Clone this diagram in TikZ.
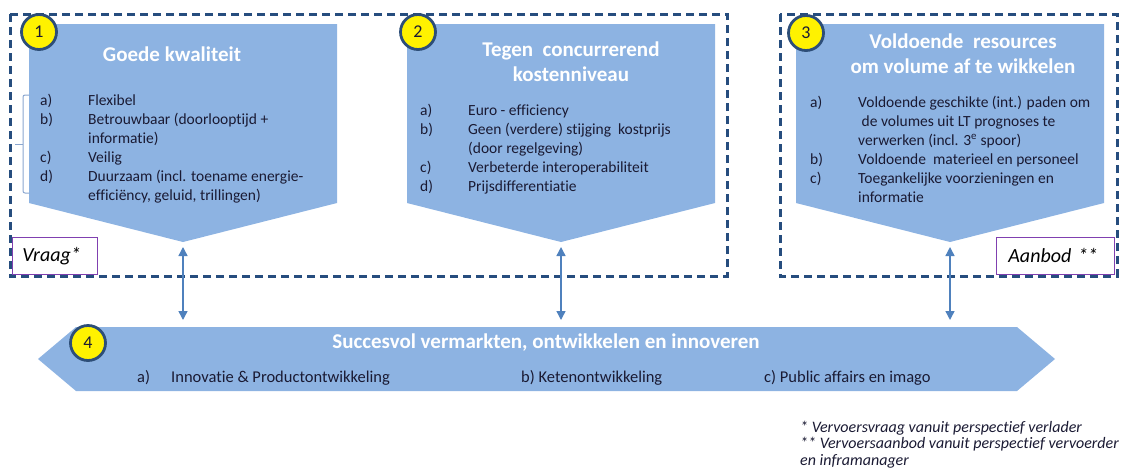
\documentclass[tikz,border=0pt]{standalone}
\usepackage{fontspec}
\setmainfont{Carlito}[Ligatures=NoCommon]
\usetikzlibrary{arrows.meta}

\definecolor{pentblue}{HTML}{8DB3E2}
\definecolor{framebl}{HTML}{264D7E}
\definecolor{ringbl}{HTML}{2D4E78}
\definecolor{arrbl}{HTML}{4F81BD}
\definecolor{bracebl}{HTML}{8AA6CF}
\definecolor{tagpurp}{HTML}{8040B0}
\definecolor{txtdark}{HTML}{1A1A33}

\tikzset{
  frame/.style={draw=framebl, line width=3pt, dash pattern=on 8pt off 5pt},
  pent/.style={fill=pentblue},
  badge/.style={circle, draw=ringbl, line width=2.8pt, fill=yellow, minimum size=35pt,
    inner sep=0pt, text=txtdark, font=\fontsize{18}{18}\selectfont},
  head/.style={text=white, align=center, font=\bfseries\fontsize{21}{25}\selectfont},
  items/.style={anchor=base west, inner sep=0pt, text=txtdark, font=\fontsize{15.5}{19}\selectfont},
  banitem/.style={items, font=\fontsize{16.5}{19}\selectfont},
  tag/.style={draw=tagpurp, line width=0.8pt, fill=white, anchor=north west, align=left,
    text=black, font=\itshape\fontsize{20}{20}\selectfont},
  arr/.style={draw=arrbl, line width=1.4pt, {Triangle[width=9pt,length=9pt]}-{Triangle[width=9pt,length=9pt]}},
  note/.style={anchor=base west, inner sep=0pt, text=txtdark, font=\itshape\fontsize{16}{16.5}\selectfont},
}

\begin{document}
\begin{tikzpicture}[x=1pt,y=-1pt]
\useasboundingbox (0,0) rectangle (1126,474);

% labels Vraag / Aanbod, under the frames
\node[tag, minimum width=85pt, minimum height=37pt, inner xsep=10pt, text width=65pt] (vraag) at (12,237) {Vraag*};
\node[tag, minimum width=118pt, minimum height=37pt, inner xsep=12pt, text width=94pt] (aanbod) at (996,237) {Aanbod **};

% dashed frames
\draw[frame] (10,14) rectangle (727,276);
\draw[frame] (780,14) rectangle (1117,276);

% the three pentagons
\fill[pent] (29,24) -- (337,24) -- (337,203) -- (183,242) coordinate (tip1) -- (29,203) -- cycle;
\fill[pent] (407,24) -- (715,24) -- (715,203) -- (561,242) coordinate (tip2) -- (407,203) -- cycle;
\fill[pent] (796,24) -- (1104,24) -- (1104,203) -- (950,242) coordinate (tip3) -- (796,203) -- cycle;

% banner
\fill[pent] (38,359) -- (76,327) -- (1017,327) -- (1055,359) -- (1017,391) -- (76,391) -- cycle;
\coordinate (bantop) at (546,327);

% brace next to list 1
\draw[bracebl, line width=1pt, rounded corners=2pt] (29,95) -- (23,95) -- (23,193) -- (29,193);
\draw[bracebl, line width=1pt] (23,144) -- (15,144);

% titles
\node[head] (head1) at (172,54) {Goede kwaliteit};
\node[head] (head2) at (571,62) {Tegen~~concurrerend\\kostenniveau};
\node[head] (head3) at (963,54) {Voldoende~~resources\\om volume af te wikkelen};
\node[head] (head4) at (546,343) {Succesvol vermarkten, ontwikkelen en innoveren};

% lists
\node[items] (list1) at (40,105) {\begin{tabular}[t]{@{}p{48pt}@{}l@{}}
a) & Flexibel\\
b) & Betrouwbaar (doorlooptijd +\\
   & informatie)\\
c) & Veilig\\
d) & Duurzaam (incl. toename energie-\\
   & efficiëncy, geluid, trillingen)
\end{tabular}};
\node[items] (list2) at (420,115) {\begin{tabular}[t]{@{}p{48pt}@{}l@{}}
a) & Euro - efficiency\\
b) & Geen (verdere) stijging~ kostprijs\\
   & (door regelgeving)\\
c) & Verbeterde interoperabiliteit\\
d) & Prijsdifferentiatie
\end{tabular}};
\node[items] (list3) at (810,107) {\begin{tabular}[t]{@{}p{48pt}@{}l@{}}
a) & Voldoende geschikte (int.) paden om\\
   & ~de volumes uit LT prognoses te\\
   & verwerken (incl. 3\textsuperscript{e} spoor)\\
b) & Voldoende~ materieel en personeel\\
c) & Toegankelijke voorzieningen en\\
   & informatie
\end{tabular}};

% banner items
\node[banitem] (ban-a) at (137,382) {a)};
\node[banitem] (ban-a2) at (171,382) {Innovatie \& Productontwikkeling};
\node[banitem] (ban-b) at (521,382) {b) Ketenontwikkeling};
\node[banitem] (ban-c) at (764,382) {c) Public affairs en imago};

% numbers
\node[badge] (n1) at (39,32) {1};
\node[badge] (n2) at (418,32) {2};
\node[badge] (n3) at (806,33) {3};
\node[badge] (n4) at (88,343) {4};

% links to the banner
\draw[arr, shorten <=5pt, shorten >=7pt] (tip1) -- (tip1 |- bantop);
\draw[arr, shorten <=5pt, shorten >=7pt] (tip2) -- (tip2 |- bantop);
\draw[arr, shorten <=5pt, shorten >=7pt] (tip3) -- (tip3 |- bantop);

% footnotes
\node[note] (notes) at (800,432) {\begin{tabular}[t]{@{}l@{}}
* Vervoersvraag vanuit perspectief verlader\\
{**} Vervoersaanbod vanuit perspectief vervoerder\\
en inframanager
\end{tabular}};

\end{tikzpicture}
\end{document}
